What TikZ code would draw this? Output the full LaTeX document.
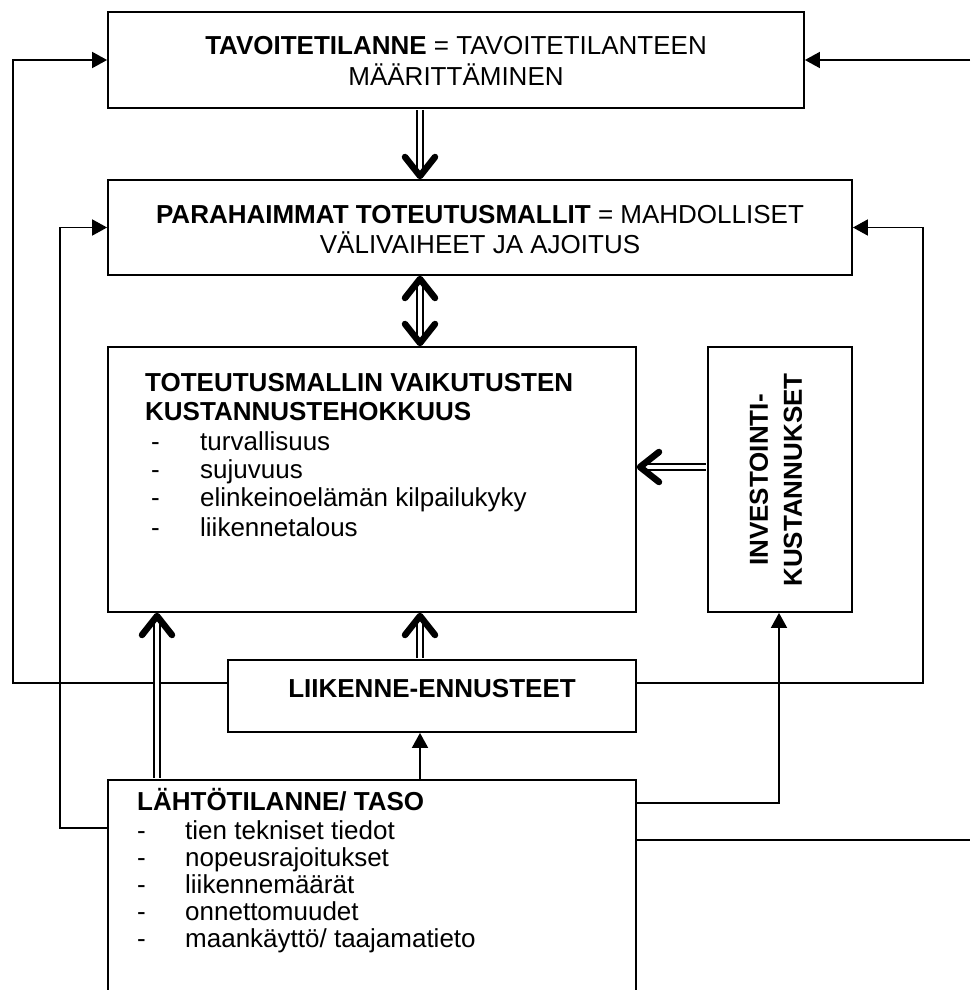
\documentclass[tikz,border=0pt]{standalone}
\usepackage{fontspec}
\setmainfont{Liberation Sans}
\usetikzlibrary{arrows.meta,calc}
\begin{document}
\begin{tikzpicture}[x=1pt,y=-1pt,
  box/.style={draw, line width=1.8pt, rectangle, inner sep=0pt},
  txt/.style={inner sep=0pt, font=\fontsize{26}{30}\selectfont},
  btxt/.style={inner sep=0pt, font=\fontsize{26}{30}\selectfont\bfseries},
  conn/.style={line width=1.8pt, -{Triangle[length=15pt,width=16pt]}},
  plainline/.style={line width=1.8pt},
  shaft/.style={double=white, double distance=3.5pt, line width=2.4pt, shorten <=1pt},
  chev/.style={line width=6.5pt, line cap=round, line join=round},
]
\useasboundingbox (0,0) rectangle (970,990);
\fill[white] (0,0) rectangle (970,990);

% boxes
\node[box, minimum width=696pt, minimum height=96pt] (top) at (456,60) {};
\node[box, minimum width=744pt, minimum height=95pt] (box2) at (480,227.5) {};
\node[box, minimum width=528pt, minimum height=265pt] (box3) at (372,479.5) {};
\node[box, minimum width=144pt, minimum height=265pt] (invest) at (780,479.5) {};
\node[box, minimum width=408pt, minimum height=72pt] (liik) at (432,696) {};
\node[box, minimum width=528pt, minimum height=220pt] (bottom) at (372,890) {};

% texts
\node[txt, anchor=base] (t1a) at (456,55) {\textbf{TAVOITETILANNE} = TAVOITETILANTEEN};
\node[txt, anchor=base] (t1b) at (456,85) {MÄÄRITTÄMINEN};
\node[txt, anchor=base] (t2a) at (480,223) {\textbf{PARAHAIMMAT TOTEUTUSMALLIT} = MAHDOLLISET};
\node[txt, anchor=base] (t2b) at (480,253) {VÄLIVAIHEET JA AJOITUS};

\node[btxt, anchor=base west] (t3a) at (145,391) {TOTEUTUSMALLIN VAIKUTUSTEN};
\node[btxt, anchor=base west] (t3b) at (145,420) {KUSTANNUSTEHOKKUUS};
\node[txt, anchor=base west] (d31) at (151,450) {-};
\node[txt, anchor=base west] (i31) at (200,450) {turvallisuus};
\node[txt, anchor=base west] (d32) at (151,478) {-};
\node[txt, anchor=base west] (i32) at (200,478) {sujuvuus};
\node[txt, anchor=base west] (d33) at (151,506) {-};
\node[txt, anchor=base west] (i33) at (200,506) {elinkeinoelämän kilpailukyky};
\node[txt, anchor=base west] (d34) at (151,536) {-};
\node[txt, anchor=base west] (i34) at (200,536) {liikennetalous};

\node[inner sep=0pt, rotate=90, align=center, font=\fontsize{26}{34}\selectfont\bfseries] (t4) at (776,480) {INVESTOINTI-\\KUSTANNUKSET};

\node[btxt, anchor=base] (t5) at (432,697) {LIIKENNE-ENNUSTEET};

\node[btxt, anchor=base west] (t6) at (137,810) {LÄHTÖTILANNE/ TASO};
\node[txt, anchor=base west] (d61) at (137,839) {-};
\node[txt, anchor=base west] (i61) at (185,839) {tien tekniset tiedot};
\node[txt, anchor=base west] (d62) at (137,866) {-};
\node[txt, anchor=base west] (i62) at (185,866) {nopeusrajoitukset};
\node[txt, anchor=base west] (d63) at (137,893) {-};
\node[txt, anchor=base west] (i63) at (185,893) {liikennemäärät};
\node[txt, anchor=base west] (d64) at (137,920) {-};
\node[txt, anchor=base west] (i64) at (185,920) {onnettomuudet};
\node[txt, anchor=base west] (d65) at (137,947) {-};
\node[txt, anchor=base west] (i65) at (185,947) {maankäyttö/ taajamatieto};

% thin connectors
\coordinate (rin) at (970,60);
\coordinate (lo) at (13,683);
\coordinate (li) at (60,828);
\coordinate (ro) at (923,683);
\coordinate (ic) at (779,803);
\coordinate (ax) at (420,0);
\coordinate (rb) at (970,840);

\draw[conn] (rin) -- (top.east);
\draw[conn] (liik.west |- lo) -- (lo) |- (top.west);
\draw[conn] (bottom.west |- li) -- (li) |- (box2.west);
\draw[conn] (liik.east |- ro) -- (ro) |- (box2.east);
\draw[conn] (bottom.east |- ic) -- (ic) -- (ic |- invest.south);
\draw[conn] (bottom.north -| ax) -- (liik.south -| ax);
\draw[plainline] (bottom.east |- rb) -- (rb);

% double arrows
\coordinate (c1) at (420,176);
\coordinate (c2) at (420,279);
\coordinate (c3) at (420,343);
\coordinate (c4) at (420,616);
\coordinate (c5) at (157,616);
\coordinate (c6) at (640,467);

\draw[shaft] (top.south -| c1) -- ($(c1)+(0,-5)$);
\draw[shaft] ($(c2)+(0,5)$) -- ($(c3)+(0,-5)$);
\draw[shaft] (liik.north -| c4) -- ($(c4)+(0,5)$);
\draw[shaft] (bottom.north -| c5) -- ($(c5)+(0,5)$);
\draw[shaft] (invest.west |- c6) -- ($(c6)+(5,0)$);

\draw[chev] ($(c1)+(-15,-19)$) -- (c1) -- ($(c1)+(15,-19)$);
\draw[chev] ($(c2)+(-15,19)$) -- (c2) -- ($(c2)+(15,19)$);
\draw[chev] ($(c3)+(-15,-19)$) -- (c3) -- ($(c3)+(15,-19)$);
\draw[chev] ($(c4)+(-15,19)$) -- (c4) -- ($(c4)+(15,19)$);
\draw[chev] ($(c5)+(-15,19)$) -- (c5) -- ($(c5)+(15,19)$);
\draw[chev] ($(c6)+(19,-15)$) -- (c6) -- ($(c6)+(19,15)$);
\end{tikzpicture}
\end{document}
